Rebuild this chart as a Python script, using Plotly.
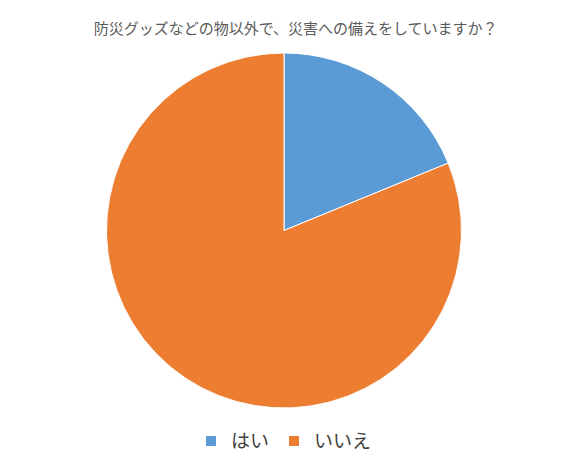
import plotly.graph_objects as go

labels = ["はい", "いいえ"]
values = [18.8, 81.2]
colors = ["#5B9BD5", "#ED7D31"]

fig = go.Figure(go.Pie(
    labels=labels, values=values, sort=False, direction="clockwise", rotation=0,
    marker=dict(colors=colors, line=dict(color="white", width=1)),
    textinfo="none", hoverinfo="label+percent",
))
fig.update_layout(
    width=587, height=464, paper_bgcolor="white", plot_bgcolor="white",
    font=dict(family="Noto Sans CJK JP", color="#595959"),
    title=dict(text="防災グッズなどの物以外で、災害への備えをしていますか？", x=0.49, xanchor="center",
               y=0.955, yanchor="middle", font=dict(size=15, color="#595959")),
    margin=dict(l=98, r=133, t=45, b=62),
    showlegend=True,
    legend=dict(orientation="h", x=0.5, xanchor="center", y=-0.04, yanchor="top",
                font=dict(size=19, color="#404040"), itemsizing="constant"),
)
fig.write_html("out.html")
